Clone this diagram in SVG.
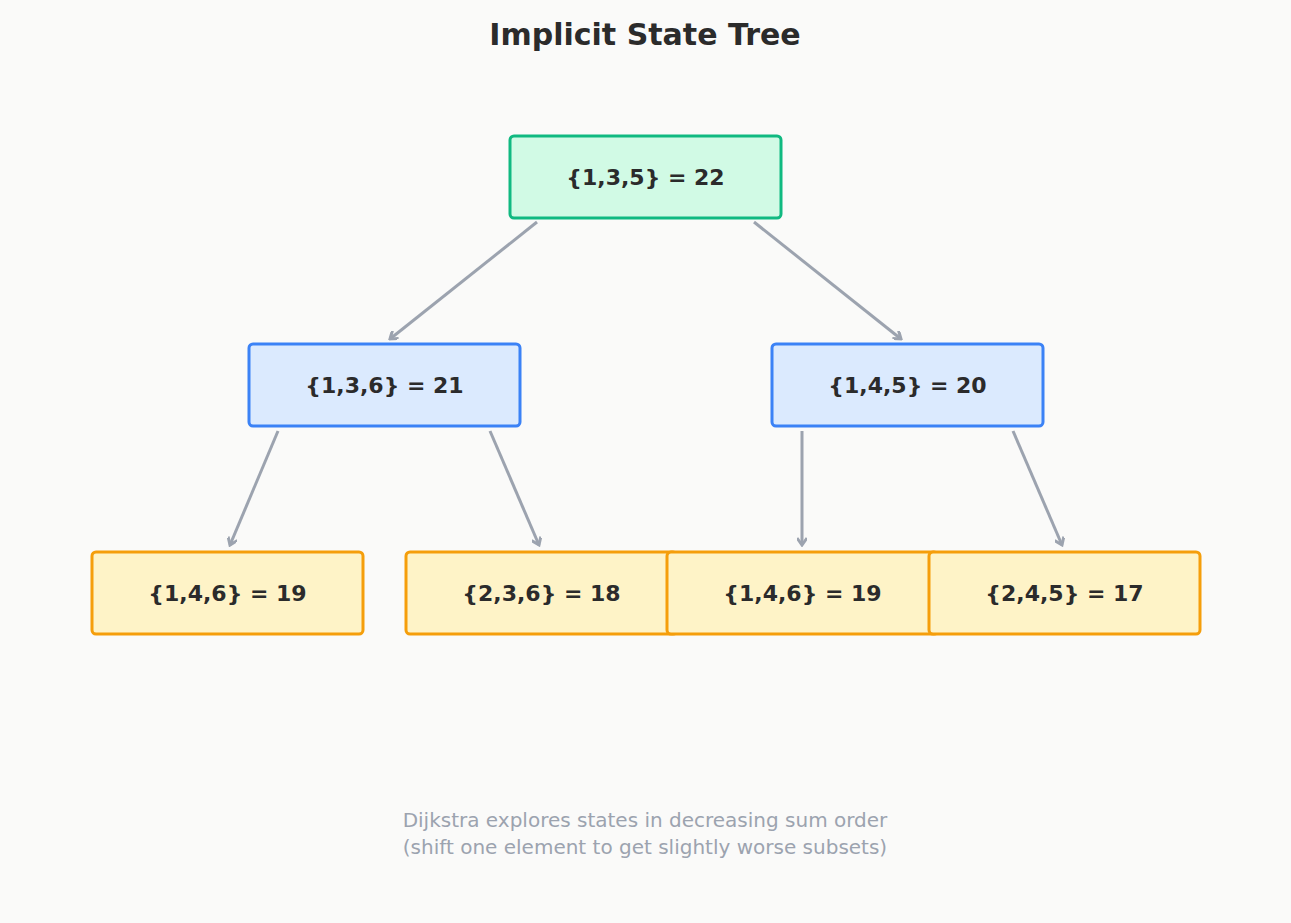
<svg xmlns="http://www.w3.org/2000/svg" width="1291" height="923" viewBox="0 0 1291 923">
<style>
.t{font-family:"DejaVu Sans",sans-serif;font-weight:bold;font-size:22px;fill:#2b2b2b;text-anchor:middle;dominant-baseline:central}
.root{fill:#d1fae5;stroke:#10b981;stroke-width:3}
.mid{fill:#dbeafe;stroke:#3b82f6;stroke-width:3}
.leaf{fill:#fef3c7;stroke:#f59e0b;stroke-width:3}
.e{stroke:#9ca3af;stroke-width:3;fill:none;marker-end:url(#a)}
.f{font-family:"DejaVu Sans",sans-serif;font-size:20px;fill:#9ca3af;text-anchor:middle}
</style>
<defs><marker id="a" markerWidth="10" markerHeight="10" refX="8" refY="5" orient="auto" markerUnits="userSpaceOnUse"><path d="M1,0 L8,5 L1,10" fill="none" stroke="#9ca3af" stroke-width="3"/></marker></defs>
<rect width="1291" height="923" fill="#fafaf9"/>
<text x="645" y="34" class="t" style="font-size:30px">Implicit State Tree</text>
<g id="edges">
<path class="e" d="M537,222 L390,339"/>
<path class="e" d="M754,222 L901,339"/>
<path class="e" d="M278,431 L230,545"/>
<path class="e" d="M490,431 L539,545"/>
<path class="e" d="M802,431 L802,545"/>
<path class="e" d="M1013,431 L1062,545"/>
</g>
<g id="n0"><rect class="root" x="510" y="136" width="271" height="82" rx="4"/><text class="t" x="645.5" y="177">{1,3,5} = 22</text></g>
<g id="n1"><rect class="mid" x="249" y="344" width="271" height="82" rx="4"/><text class="t" x="384.5" y="385">{1,3,6} = 21</text></g>
<g id="n2"><rect class="mid" x="772" y="344" width="271" height="82" rx="4"/><text class="t" x="907.5" y="385">{1,4,5} = 20</text></g>
<g id="n3"><rect class="leaf" x="92" y="552" width="271" height="82" rx="4"/><text class="t" x="227.5" y="593">{1,4,6} = 19</text></g>
<g id="n4"><rect class="leaf" x="406" y="552" width="271" height="82" rx="4"/><text class="t" x="541.5" y="593">{2,3,6} = 18</text></g>
<g id="n5"><rect class="leaf" x="667" y="552" width="271" height="82" rx="4"/><text class="t" x="802.5" y="593">{1,4,6} = 19</text></g>
<g id="n6"><rect class="leaf" x="929" y="552" width="271" height="82" rx="4"/><text class="t" x="1064.5" y="593">{2,4,5} = 17</text></g>
<text class="f" x="645" y="827">Dijkstra explores states in decreasing sum order</text>
<text class="f" x="645" y="854">(shift one element to get slightly worse subsets)</text>
</svg>
